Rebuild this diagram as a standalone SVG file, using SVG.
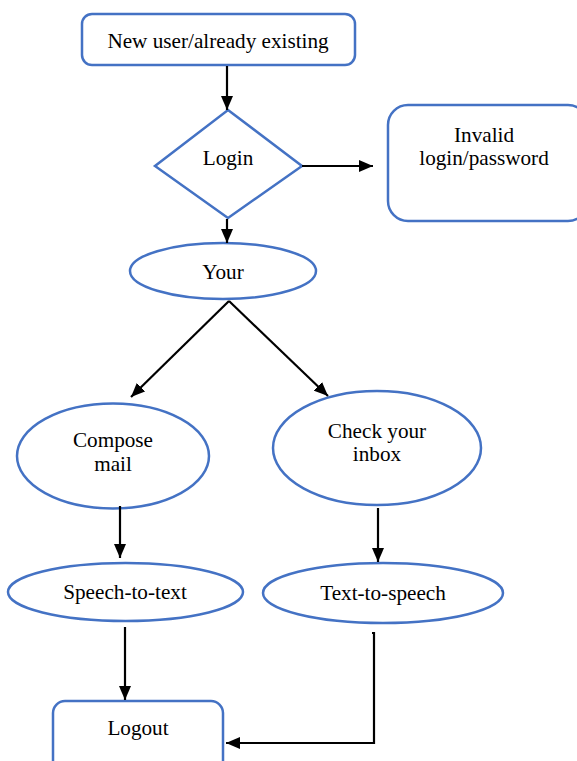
<svg xmlns="http://www.w3.org/2000/svg" width="577" height="761" viewBox="0 0 577 761">
<style>
.n{fill:#fff;stroke:#4472C4;stroke-width:2.5}
.t{font-family:'Liberation Serif','DejaVu Serif',serif;font-size:21.2px;fill:#000;text-anchor:middle}
.c{fill:none;stroke:#000;stroke-width:2.2}
</style>
<defs>
<marker id="ah" viewBox="0 0 14 12" markerUnits="userSpaceOnUse" markerWidth="14" markerHeight="12" refX="14" refY="6" orient="auto">
<path d="M0,0 L14,6 L0,12 z" fill="#000"/>
</marker>
</defs>
<rect width="577" height="761" fill="#fff"/>
<g id="start"><rect class="n" x="82" y="14" width="273" height="51" rx="10"/><text class="t" x="218" y="48">New user/already existing</text></g>
<g id="login"><polygon class="n" points="228,110 302,166 228,218 155,166"/><text class="t" x="228" y="165">Login</text></g>
<g id="invalid"><rect class="n" x="388" y="105" width="200" height="116" rx="20"/><text class="t" x="484" y="142">Invalid</text><text class="t" x="484" y="165">login/password</text></g>
<g id="your"><ellipse class="n" cx="223" cy="271" rx="93" ry="28"/><text class="t" x="223" y="279">Your</text></g>
<g id="compose"><ellipse class="n" cx="113" cy="456" rx="96" ry="52.5"/><text class="t" x="113" y="447">Compose</text><text class="t" x="113" y="471">mail</text></g>
<g id="inbox"><ellipse class="n" cx="377" cy="448" rx="104" ry="57"/><text class="t" x="377" y="438">Check your</text><text class="t" x="377" y="461">inbox</text></g>
<g id="stt"><ellipse class="n" cx="125.5" cy="592" rx="117.5" ry="29"/><text class="t" x="125" y="599">Speech-to-text</text></g>
<g id="tts"><ellipse class="n" cx="383" cy="593" rx="120" ry="30"/><text class="t" x="383" y="600">Text-to-speech</text></g>
<g id="logout"><rect class="n" x="53" y="701" width="170" height="80" rx="12"/><text class="t" x="138" y="735">Logout</text></g>
<g id="connectors">
<line class="c" x1="227" y1="66" x2="227" y2="110" marker-end="url(#ah)"/>
<line class="c" x1="302" y1="166" x2="373" y2="166" marker-end="url(#ah)"/>
<line class="c" x1="227" y1="219" x2="227" y2="243" marker-end="url(#ah)"/>
<line class="c" x1="229" y1="301" x2="131" y2="397" marker-end="url(#ah)"/>
<line class="c" x1="229" y1="301" x2="328" y2="396" marker-end="url(#ah)"/>
<line class="c" x1="120" y1="506" x2="120" y2="558" marker-end="url(#ah)"/>
<line class="c" x1="378" y1="508" x2="378" y2="562" marker-end="url(#ah)"/>
<line class="c" x1="125" y1="627" x2="125" y2="700" marker-end="url(#ah)"/>
<path class="c" d="M372,633 L374,633 L374,743 L226,743" marker-end="url(#ah)"/>
</g>
</svg>
